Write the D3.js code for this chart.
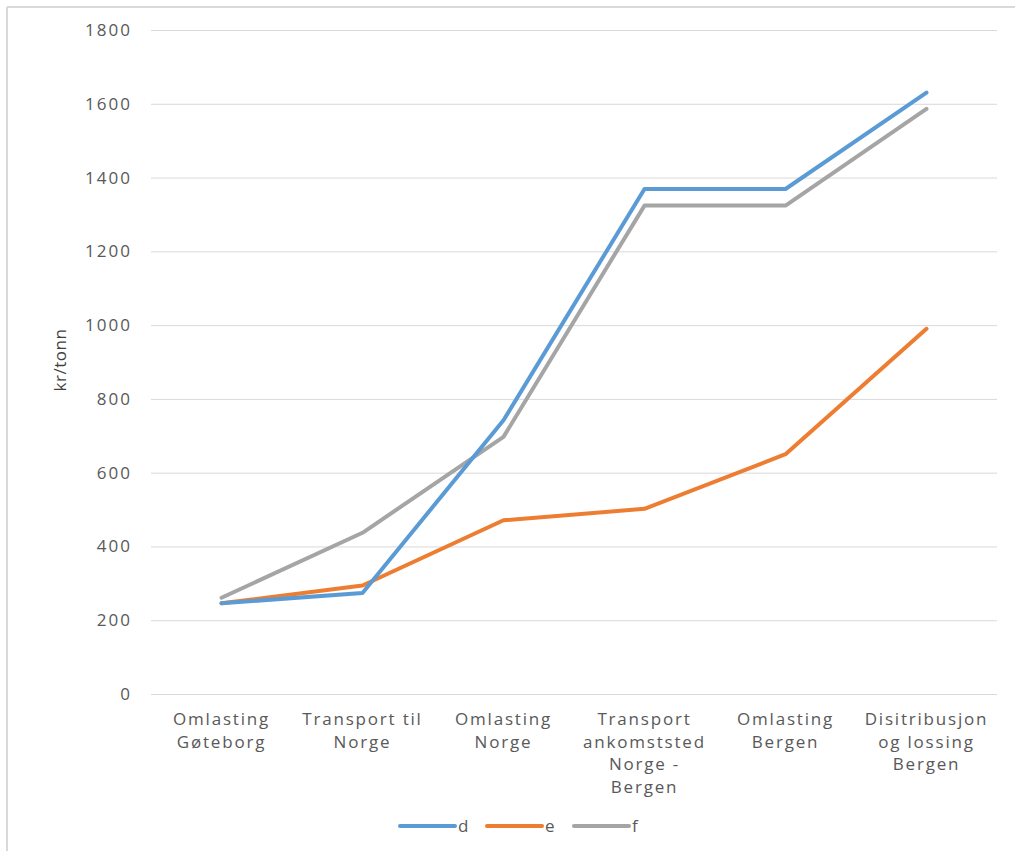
<!DOCTYPE html>
<meta charset="utf-8">
<script src="https://d3js.org/d3.v7.min.js"></script>
<style>
  body { margin: 0; background: #fff; }
  text { font-family: "Open Sans", sans-serif; }
</style>
<body>
  <div id="chart"></div>
</body>
<script>
  // data
  var categories = [
    ["Omlasting", "Gøteborg"],
    ["Transport til", "Norge"],
    ["Omlasting", "Norge"],
    ["Transport", "ankomststed", "Norge -", "Bergen"],
    ["Omlasting", "Bergen"],
    ["Disitribusjon", "og lossing", "Bergen"]
  ];
  var seriesNames = ["d", "e", "f"];
  var seriesD = [246, 274, 742, 1369, 1369, 1630];
  var seriesE = [246, 294, 471, 502, 650, 990];
  var seriesF = [261, 437, 697, 1324, 1324, 1586];
  var yTicks = [0, 200, 400, 600, 800, 1000, 1200, 1400, 1600, 1800];
  var colors = ["#5B9BD5", "#ED7D31", "#A5A5A5"];

  var W = 1015, H = 851;
  var margin = { top: 30, right: 18, bottom: 157, left: 151 },
      width = W - margin.left - margin.right,
      height = H - margin.top - margin.bottom;

  var root = d3.select("#chart").append("svg")
      .attr("width", W)
      .attr("height", H);

  // outer frame (only top and left visible in the crop)
  root.append("line").attr("x1", 7).attr("x2", W).attr("y1", 7).attr("y2", 7)
      .attr("stroke", "#d9d9d9").attr("stroke-width", 2);
  root.append("line").attr("x1", 7).attr("x2", 7).attr("y1", 7).attr("y2", H)
      .attr("stroke", "#d9d9d9").attr("stroke-width", 2);

  var svg = root.append("g")
      .attr("transform", "translate(" + margin.left + "," + margin.top + ")");

  var x = d3.scaleBand()
      .domain(d3.range(categories.length))
      .range([0, width]);

  var y = d3.scaleLinear()
      .domain([0, 1800])
      .range([height, 0]);

  // Y axis with gridlines
  var yAxis = svg.append("g")
      .call(d3.axisLeft(y).tickValues(yTicks).tickFormat(d3.format("d"))
        .tickSize(-width).tickPadding(19));
  yAxis.select(".domain").remove();
  yAxis.selectAll(".tick line").attr("stroke", "#d9d9d9").attr("stroke-width", 1);
  yAxis.selectAll(".tick text")
      .attr("fill", "#595959")
      .style("font-size", "17px")
      .style("letter-spacing", "2px");

  svg.append("text")
      .attr("transform", "rotate(-90)")
      .attr("x", -330)
      .attr("y", -85)
      .attr("text-anchor", "middle")
      .attr("fill", "#404040")
      .style("font-size", "17px")
      .style("letter-spacing", "0.5px")
      .text("kr/tonn");

  // X category labels
  var xl = svg.append("g")
      .selectAll("text")
      .data(categories)
      .enter()
      .append("text")
      .attr("x", function (d, i) { return x(i) + x.bandwidth() / 2; })
      .attr("y", height + 31)
      .attr("text-anchor", "middle")
      .attr("fill", "#595959")
      .style("font-size", "17px")
      .style("letter-spacing", "1.8px");
  xl.selectAll("tspan")
      .data(function (d) { return d; })
      .enter()
      .append("tspan")
      .attr("x", function () { return d3.select(this.parentNode).attr("x"); })
      .attr("dy", function (d, j) { return j === 0 ? 0 : 22.5; })
      .text(function (d) { return d; });

  // lines
  var allSeries = [seriesD, seriesE, seriesF];
  var line = d3.line()
      .x(function (d, i) { return x(i) + x.bandwidth() / 2; })
      .y(function (d) { return y(d); });

  // draw order: f, e, d (blue on top)
  [2, 1, 0].forEach(function (k) {
    svg.append("path")
        .datum(allSeries[k])
        .attr("fill", "none")
        .attr("stroke", colors[k])
        .attr("stroke-width", 4)
        .attr("stroke-linejoin", "round")
        .attr("stroke-linecap", "round")
        .attr("d", line);
  });

  // legend
  var legend = root.append("g")
      .attr("transform", "translate(400,826)");
  var item = legend.selectAll("g")
      .data(seriesNames)
      .enter()
      .append("g")
      .attr("transform", function (d, i) { return "translate(" + (i * 87) + ",0)"; });
  item.append("line")
      .attr("x1", 0).attr("x2", 55)
      .attr("stroke", function (d, i) { return colors[i]; })
      .attr("stroke-width", 4)
      .attr("stroke-linecap", "round");
  item.append("text")
      .attr("x", 58)
      .attr("y", 6)
      .attr("fill", "#595959")
      .style("font-size", "17px")
      .text(function (d) { return d; });
</script>
